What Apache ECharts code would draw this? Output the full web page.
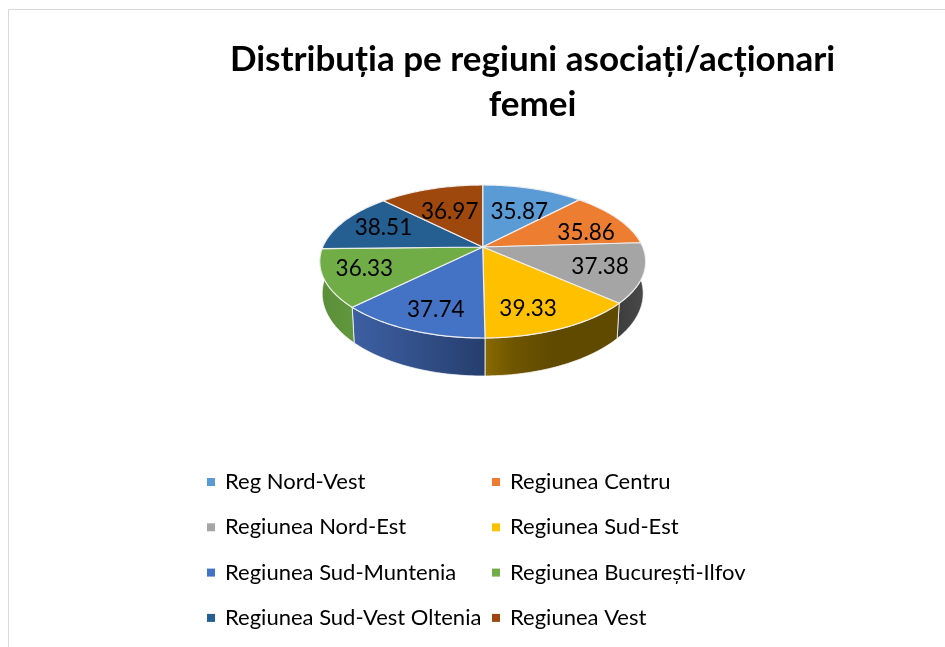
<!DOCTYPE html>
<html>
<head>
<meta charset="utf-8">
<style>html,body{margin:0;padding:0;background:#fff}#c{width:945px;height:647px}</style>
<script src="https://cdn.jsdelivr.net/npm/echarts@6/dist/echarts.min.js"></script>
</head>
<body>
<div id="c"></div>
<script>
const titleText = 'Distribuția pe regiuni asociați/acționari\nfemei';
const categories = ['Reg Nord-Vest','Regiunea Centru','Regiunea Nord-Est','Regiunea Sud-Est','Regiunea Sud-Muntenia','Regiunea București-Ilfov','Regiunea Sud-Vest Oltenia','Regiunea Vest'];
const values = [35.87,35.86,37.38,39.33,37.74,36.33,38.51,36.97];
const legendLeft = [categories[0],categories[2],categories[4],categories[6]];
const legendRight = [categories[1],categories[3],categories[5],categories[7]];

const colors = ['#5B9BD5','#ED7D31','#A5A5A5','#FFC000','#4472C4','#70AD47','#255E91','#9E480E'];
const wallStops = [
  ['#3f6d96','#3f6d96'],['#a55722','#a55722'],
  [[0,'#3c3c3c'],[1,'#4a4a4a']],
  [[0,'#8a6a00'],[0.2,'#6f5600'],[0.5,'#604a00'],[1,'#5f4a00']],
  [[0,'#3d60a3'],[1,'#263e6e']],
  [[0,'#5b8d38'],[1,'#62983d']],
  ['#1a4266','#1a4266'],['#6e320a','#6e320a']
];
// label placement inside each slice: fraction of radius, degrees off the mid-angle
const labelRadius = [0.61,0.71,0.74,0.75,0.765,0.75,0.72,0.60];
const labelShift = [2.8,6.6,-0.5,5.3,-2.8,2.8,2.4,0];

// perspective view of the disc
const CX = 482.7, AY = 247, A = 160, B = 73.75, K = 0.1895, DEPTH = 30.8, SHRINK = 0.985;
const total = values.reduce((s,v)=>s+v,0);
function project(deg, r){
  const t = deg*Math.PI/180, u = r*Math.sin(t), v = -r*Math.cos(t), w = 1-K*v;
  return [CX + A*u/w, AY + B*v/w, w];
}
function lower(p){ return [CX+(p[0]-CX)*SHRINK, p[1]+DEPTH/p[2]]; }
function startAngle(i){ let s=0; for(let j=0;j<i;j++) s+=values[j]; return s/total*360; }

function renderSlice(i){
  return function(){
    const a0 = startAngle(i), a1 = a0 + values[i]/total*360, N = 48;
    const rim = [];
    for(let n=0;n<=N;n++) rim.push(project(a0+(a1-a0)*n/N,1));
    const top = [[CX,AY]].concat(rim.map(p=>[p[0],p[1]]));
    const wall = rim.map(p=>[p[0],p[1]]).concat(rim.slice().reverse().map(lower));
    const xs = wall.map(p=>p[0]);
    const stops = wallStops[i].map((s,k)=>Array.isArray(s)?{offset:s[0],color:s[1]}:{offset:k,color:s});
    const mid = (a0+a1)/2 + labelShift[i];
    const lp = project(mid,labelRadius[i]);
    return {type:'group',children:[
      {type:'polygon',z2:1,shape:{points:wall},style:{
        fill:new echarts.graphic.LinearGradient(Math.min(...xs),0,Math.max(...xs),0,stops,true),
        stroke:'rgba(255,255,255,0.75)',lineWidth:1}},
      {type:'polygon',z2:10,shape:{points:top},style:{fill:colors[i],stroke:'rgba(240,240,240,0.95)',lineWidth:1.2}},
      {type:'text',z2:20,style:{x:lp[0],y:lp[1]+1.5,text:values[i].toFixed(2),fill:'#000',
        font:'22.5px Lato',align:'center',verticalAlign:'middle'}}
    ]};
  };
}

const legendBase = {orient:'vertical',icon:'rect',itemWidth:8,itemHeight:8,itemGap:23.3,
  textStyle:{fontFamily:'Lato',fontSize:22,color:'#000',padding:[0,0,0,5]},selectedMode:false};

const chart = echarts.init(document.getElementById('c'),null,{renderer:'canvas'});
chart.setOption({
  animation:false,
  backgroundColor:'#fff',
  title:{text:titleText,left:527.5,top:32,textAlign:'center',
    textStyle:{fontFamily:'Lato',fontWeight:'bold',fontSize:35,lineHeight:45,color:'#000'}},
  legend:[
    Object.assign({},legendBase,{data:legendLeft,left:202,top:466}),
    Object.assign({},legendBase,{data:legendRight,left:487,top:466})
  ],
  graphic:[
    {type:'line',shape:{x1:8.5,y1:9.5,x2:945,y2:9.5},style:{stroke:'#d9d9d9',lineWidth:1}},
    {type:'line',shape:{x1:8.5,y1:9.5,x2:8.5,y2:647},style:{stroke:'#d9d9d9',lineWidth:1}}
  ],
  series:categories.map((name,i)=>({
    type:'custom',name,coordinateSystem:'none',
    itemStyle:{color:colors[i]},
    data:[{name,value:values[i]}],
    renderItem:renderSlice(i),silent:true
  }))
});
</script>
</body>
</html>
